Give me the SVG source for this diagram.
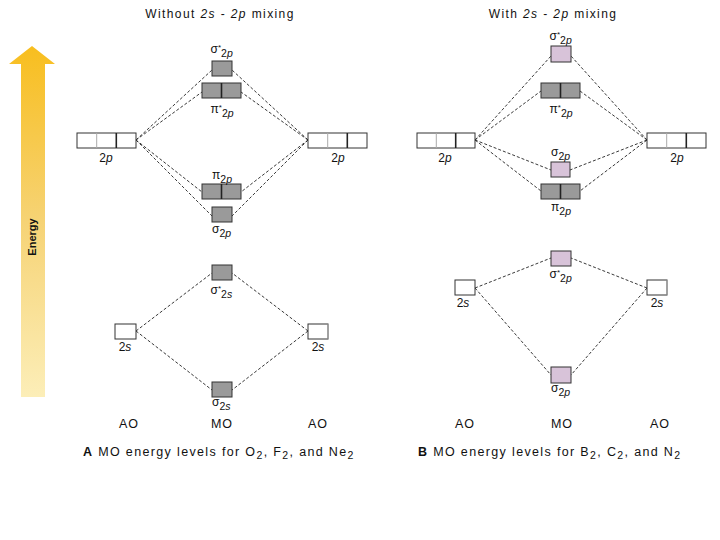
<svg xmlns="http://www.w3.org/2000/svg" width="720" height="540" viewBox="0 0 720 540">
<defs>
<linearGradient id="eg" x1="0" y1="0" x2="0" y2="1">
<stop offset="0" stop-color="#F8BE1E"/>
<stop offset="0.5" stop-color="#F6D375"/>
<stop offset="1" stop-color="#FCEEB8"/>
</linearGradient>
<style>
text{font-family:"Liberation Sans",Arial,sans-serif;fill:#111}
.t{font-size:12px;letter-spacing:1.4px}
.l{font-size:12px}
.x{font-size:12.5px;letter-spacing:1px}
.s{font-size:10.5px}
.a{font-size:8px}
.i{font-style:italic}
.c{font-size:12.5px;letter-spacing:1.35px}
.g{fill:#9a9a9a;stroke:#333;stroke-width:1}
.pk{fill:#d8c3d9;stroke:#333;stroke-width:1}
.w{fill:#fff;stroke:#333;stroke-width:1}
.dv{stroke:#222;stroke-width:1.6}
.dl{stroke:#aaa;stroke-width:1}
.cn line{stroke:#222;stroke-width:0.9;stroke-dasharray:3 2;fill:none}
</style>
</defs>
<rect width="720" height="540" fill="#fff"/>

<g id="energy">
<path d="M32,46 L55,64 L45,64 L45,397 L21,397 L21,64 L9,64 Z" fill="url(#eg)"/>
<text transform="translate(36,237) rotate(-90)" text-anchor="middle" style="font-size:11px;font-weight:bold">Energy</text>
</g>

<g id="titles">
<text class="t" x="220" y="18" text-anchor="middle">Without <tspan class="i">2s</tspan> - <tspan class="i">2p</tspan> mixing</text>
<text class="t" x="553" y="18" text-anchor="middle">With <tspan class="i">2s</tspan> - <tspan class="i">2p</tspan> mixing</text>
</g>

<g class="cn" id="connectors">
<line x1="136" y1="140" x2="212" y2="70"/>
<line x1="136" y1="140" x2="202" y2="92"/>
<line x1="136" y1="140" x2="202" y2="192"/>
<line x1="136" y1="140" x2="212" y2="216"/>
<line x1="308" y1="140" x2="232" y2="70"/>
<line x1="308" y1="140" x2="241" y2="92"/>
<line x1="308" y1="140" x2="241" y2="192"/>
<line x1="308" y1="140" x2="232" y2="216"/>
<line x1="136" y1="331" x2="212" y2="273"/>
<line x1="136" y1="331" x2="212" y2="390"/>
<line x1="308" y1="331" x2="232" y2="273"/>
<line x1="308" y1="331" x2="232" y2="390"/>
<line x1="475" y1="140" x2="551" y2="56"/>
<line x1="475" y1="140" x2="541" y2="91"/>
<line x1="475" y1="140" x2="551" y2="170"/>
<line x1="475" y1="140" x2="541" y2="191"/>
<line x1="647" y1="140" x2="571" y2="56"/>
<line x1="647" y1="140" x2="580" y2="91"/>
<line x1="647" y1="140" x2="570" y2="170"/>
<line x1="647" y1="140" x2="580" y2="191"/>
<line x1="475" y1="288" x2="551" y2="258"/>
<line x1="475" y1="288" x2="551" y2="375"/>
<line x1="647" y1="288" x2="571" y2="258"/>
<line x1="647" y1="288" x2="571" y2="375"/>
</g>

<!-- Panel A -->
<g id="A-2p-left">
<rect class="w" x="77" y="133" width="59" height="15"/>
<line class="dl" x1="96.7" y1="133" x2="96.7" y2="148"/>
<line class="dv" x1="116.3" y1="133" x2="116.3" y2="148"/>
<text class="l" x="106" y="162" text-anchor="middle">2<tspan class="i">p</tspan></text>
</g>
<g id="A-2p-right">
<rect class="w" x="308" y="133" width="59" height="15"/>
<line class="dl" x1="327.7" y1="133" x2="327.7" y2="148"/>
<line class="dv" x1="347.3" y1="133" x2="347.3" y2="148"/>
<text class="l" x="338" y="162" text-anchor="middle">2<tspan class="i">p</tspan></text>
</g>
<g id="A-sigma2p-star">
<rect class="g" x="212" y="61" width="20" height="15"/>
<text class="l" x="210.5" y="53">σ<tspan class="a" dy="-3">*</tspan><tspan class="s" dy="7">2<tspan class="i">p</tspan></tspan></text>
</g>
<g id="A-pi2p-star">
<rect class="g" x="202" y="83" width="39" height="15"/>
<line class="dv" x1="221.5" y1="83" x2="221.5" y2="98"/>
<text class="l" x="210.5" y="113">π<tspan class="a" dy="-3">*</tspan><tspan class="s" dy="7">2<tspan class="i">p</tspan></tspan></text>
</g>
<g id="A-pi2p">
<rect class="g" x="202" y="184" width="39" height="15"/>
<line class="dv" x1="221.5" y1="184" x2="221.5" y2="199"/>
<text class="l" x="212" y="179">π<tspan class="s" dy="4">2<tspan class="i">p</tspan></tspan></text>
</g>
<g id="A-sigma2p">
<rect class="g" x="212" y="207" width="20" height="15"/>
<text class="l" x="212" y="233">σ<tspan class="s" dy="4">2<tspan class="i">p</tspan></tspan></text>
</g>
<g id="A-sigma2s-star">
<rect class="g" x="212" y="265" width="20" height="15"/>
<text class="l" x="210.5" y="294">σ<tspan class="a" dy="-3">*</tspan><tspan class="s" dy="7">2<tspan class="i">s</tspan></tspan></text>
</g>
<g id="A-2s-left">
<rect class="w" x="115" y="324" width="21" height="15"/>
<text class="l" x="125" y="351" text-anchor="middle">2<tspan class="i">s</tspan></text>
</g>
<g id="A-2s-right">
<rect class="w" x="308" y="324" width="20" height="15"/>
<line class="dl" x1="328" y1="324" x2="328" y2="339"/>
<text class="l" x="318" y="351" text-anchor="middle">2<tspan class="i">s</tspan></text>
</g>
<g id="A-sigma2s">
<rect class="g" x="212" y="382" width="20" height="15"/>
<text class="l" x="212" y="406">σ<tspan class="s" dy="4">2<tspan class="i">s</tspan></tspan></text>
</g>
<g id="A-axis">
<text class="x" x="129" y="428" text-anchor="middle">AO</text>
<text class="x" x="222" y="428" text-anchor="middle">MO</text>
<text class="x" x="318" y="428" text-anchor="middle">AO</text>
</g>
<text class="c" x="83" y="456"><tspan font-weight="bold">A</tspan>  MO energy levels for O<tspan class="s" dy="3">2</tspan><tspan dy="-3">, F</tspan><tspan class="s" dy="3">2</tspan><tspan dy="-3">, and Ne</tspan><tspan class="s" dy="3">2</tspan></text>

<!-- Panel B -->
<g id="B-2p-left">
<rect class="w" x="417" y="133" width="58" height="15"/>
<line class="dl" x1="436.3" y1="133" x2="436.3" y2="148"/>
<line class="dv" x1="455.7" y1="133" x2="455.7" y2="148"/>
<text class="l" x="445" y="162" text-anchor="middle">2<tspan class="i">p</tspan></text>
</g>
<g id="B-2p-right">
<rect class="w" x="647" y="133" width="59" height="15"/>
<line class="dl" x1="666.7" y1="133" x2="666.7" y2="148"/>
<line class="dv" x1="686.3" y1="133" x2="686.3" y2="148"/>
<text class="l" x="677" y="162" text-anchor="middle">2<tspan class="i">p</tspan></text>
</g>
<g id="B-sigma2p-star">
<rect class="pk" x="551" y="46" width="20" height="16"/>
<text class="l" x="549.5" y="40">σ<tspan class="a" dy="-3">*</tspan><tspan class="s" dy="7">2<tspan class="i">p</tspan></tspan></text>
</g>
<g id="B-pi2p-star">
<rect class="g" x="541" y="83" width="39" height="15"/>
<line class="dv" x1="560.5" y1="83" x2="560.5" y2="98"/>
<text class="l" x="549.5" y="113">π<tspan class="a" dy="-3">*</tspan><tspan class="s" dy="7">2<tspan class="i">p</tspan></tspan></text>
</g>
<g id="B-sigma2p">
<rect class="pk" x="551" y="162" width="19" height="15"/>
<text class="l" x="551" y="156">σ<tspan class="s" dy="4">2<tspan class="i">p</tspan></tspan></text>
</g>
<g id="B-pi2p">
<rect class="g" x="541" y="184" width="39" height="15"/>
<line class="dv" x1="560.5" y1="184" x2="560.5" y2="199"/>
<text class="l" x="551" y="211">π<tspan class="s" dy="4">2<tspan class="i">p</tspan></tspan></text>
</g>
<g id="B-sigma2s-star">
<rect class="pk" x="551" y="251" width="20" height="15"/>
<text class="l" x="549.5" y="278">σ<tspan class="a" dy="-3">*</tspan><tspan class="s" dy="7">2<tspan class="i">p</tspan></tspan></text>
</g>
<g id="B-2s-left">
<rect class="w" x="455" y="280" width="20" height="15"/>
<text class="l" x="463" y="307" text-anchor="middle">2<tspan class="i">s</tspan></text>
</g>
<g id="B-2s-right">
<rect class="w" x="647" y="280" width="20" height="15"/>
<line class="dl" x1="667" y1="280" x2="667" y2="295"/>
<text class="l" x="657" y="307" text-anchor="middle">2<tspan class="i">s</tspan></text>
</g>
<g id="B-sigma2s">
<rect class="pk" x="551" y="367" width="20" height="16"/>
<text class="l" x="551" y="392">σ<tspan class="s" dy="4">2<tspan class="i">p</tspan></tspan></text>
</g>
<g id="B-axis">
<text class="x" x="465" y="428" text-anchor="middle">AO</text>
<text class="x" x="562" y="428" text-anchor="middle">MO</text>
<text class="x" x="660" y="428" text-anchor="middle">AO</text>
</g>
<text class="c" x="418" y="456"><tspan font-weight="bold">B</tspan>  MO energy levels for B<tspan class="s" dy="3">2</tspan><tspan dy="-3">, C</tspan><tspan class="s" dy="3">2</tspan><tspan dy="-3">, and N</tspan><tspan class="s" dy="3">2</tspan></text>
</svg>
